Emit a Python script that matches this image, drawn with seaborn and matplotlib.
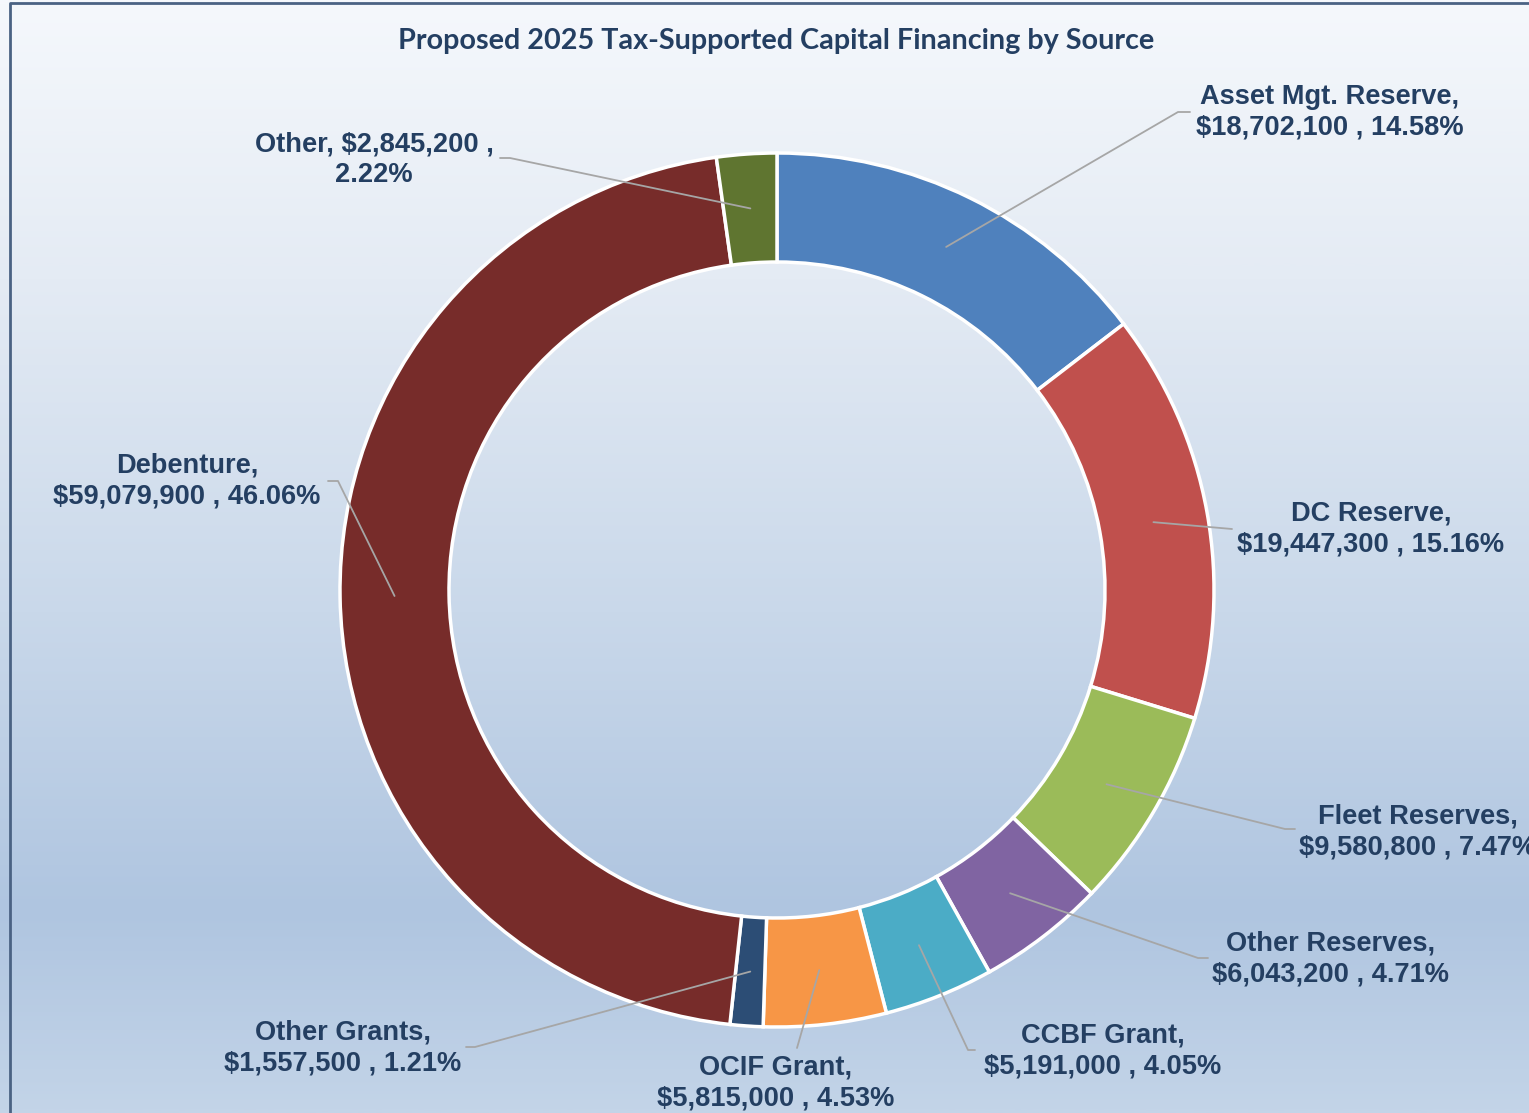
import numpy as np
import matplotlib
matplotlib.use("Agg")
import matplotlib.pyplot as plt
from matplotlib.colors import LinearSegmentedColormap
import seaborn as sns

# data
sources = ["Asset Mgt. Reserve", "DC Reserve", "Fleet Reserves", "Other Reserves",
           "CCBF Grant", "OCIF Grant", "Other Grants", "Debenture", "Other"]
amounts = [18702100, 19447300, 9580800, 6043200, 5191000, 5815000, 1557500, 59079900, 2845200]
colours = ["#4F81BD", "#C0504D", "#9BBB59", "#8064A2", "#4BACC6",
           "#F79646", "#2C4D75", "#772C2A", "#5F7530"]

# label layout (pixels): text centre, elbow of leader, end of short stub
text_pos = [(1330, 112), (1371, 529), (1418, 832), (1331, 959), (1103, 1051),
            (776, 1083), (343, 1048), (187, 481), (374, 160)]
elbows = [(1178, 112), (1232, 529), (1285, 829), (1198, 958), (968, 1050),
          (797, 1048), (475, 1047), (338, 481), (510, 158)]
stubs = [(1190, 112), None, (1295, 829), (1208, 958), (975, 1050),
         None, (466, 1047), (328, 481), (500, 158)]

sns.set_theme(style="white")
plt.rcParams["font.family"] = ["Liberation Sans", "DejaVu Sans"]

W, H = 1529, 1113
fig = plt.figure(figsize=(W / 100, H / 100), dpi=100)
ax = fig.add_axes([0, 0, 1, 1])

# background gradient
bg = LinearSegmentedColormap.from_list(
    "bg", [(0, "#F5F8FC"), (0.25, "#E4EBF4"), (0.55, "#C9D8EA"),
           (0.82, "#AFC5E0"), (1.0, "#C3D4E8")])
grad = np.linspace(0, 1, 400).reshape(-1, 1)
ax.imshow(grad, cmap=bg, aspect="auto", extent=(0, W, H, 0), zorder=0)

cx, cy, R, r_in = 777, 590, 437, 328
palette = sns.color_palette(colours)
ax.pie(amounts, colors=palette, startangle=-90, counterclock=True,
       center=(cx, cy), radius=R,
       wedgeprops=dict(width=R - r_in, edgecolor="white", linewidth=2.5))

ax.set_xlim(0, W)
ax.set_ylim(H, 0)
ax.set_aspect("equal")
ax.axis("off")

total = sum(amounts)
pcts = [a / total * 100 for a in amounts]
cum = np.cumsum([0] + pcts[:-1])
r_mid = (R + r_in) / 2
txt_col = "#243F62"

for i, name in enumerate(sources):
    ang = np.deg2rad((cum[i] + pcts[i] / 2) / 100 * 360)
    sx = cx + r_mid * np.sin(ang)
    sy = cy - r_mid * np.cos(ang)
    xs = [sx, elbows[i][0]]
    ys = [sy, elbows[i][1]]
    if stubs[i] is not None:
        xs.append(stubs[i][0])
        ys.append(stubs[i][1])
    ax.plot(xs, ys, color="#A6A6A6", lw=1.3, zorder=5)
    if name == "Other":
        label = f"{name}, ${amounts[i]:,} ,\n{pcts[i]:.2f}%"
    else:
        label = f"{name},\n${amounts[i]:,} , {pcts[i]:.2f}%"
    ax.text(text_pos[i][0], text_pos[i][1], label, ha="center", va="center",
            fontsize=19.6, fontweight="bold", color=txt_col, linespacing=1.22,
            zorder=6)

ax.text(776, 41, "Proposed 2025 Tax-Supported Capital Financing by Source",
        ha="center", va="center", fontsize=20.7, fontweight="bold",
        color=txt_col, family=["Lato", "DejaVu Sans"], zorder=6)

# chart border (left and top visible)
ax.plot([10, 10, W + 5], [H + 5, 3, 3], color="#4A6283", lw=2, zorder=7)

fig.savefig("out.png", dpi=100)
